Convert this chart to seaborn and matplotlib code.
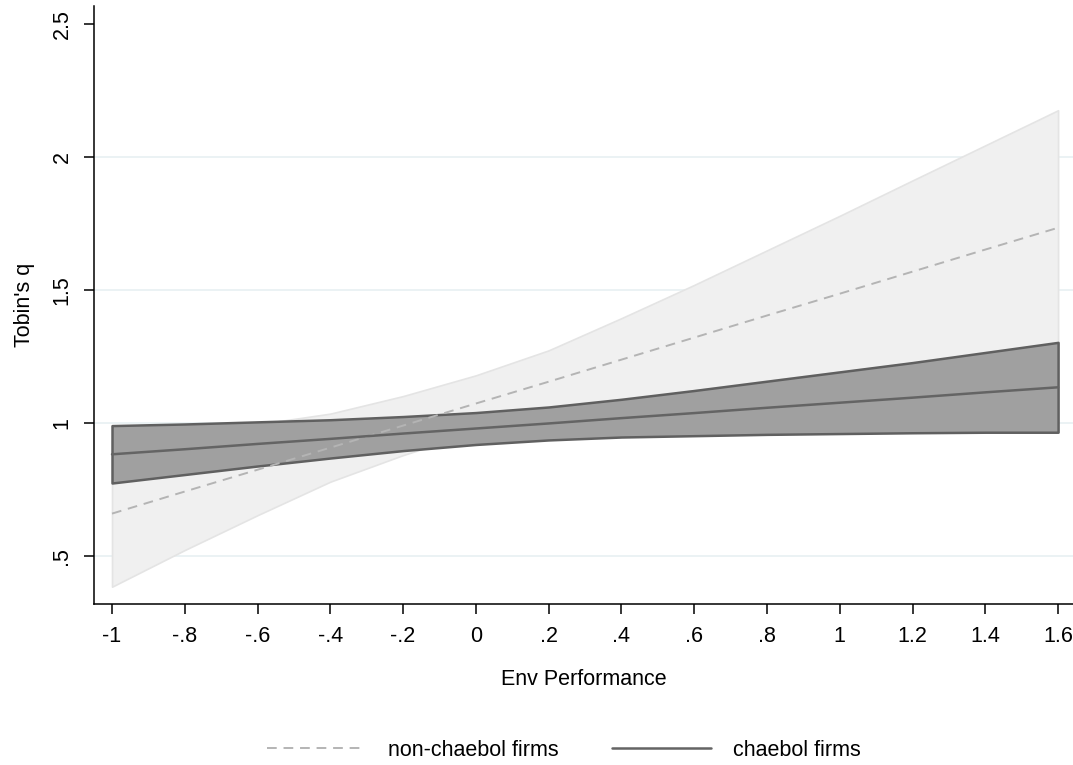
import matplotlib
matplotlib.use("Agg")
import matplotlib.pyplot as plt
import numpy as np
import pandas as pd
import seaborn as sns

# Predicted Tobin's q by environmental performance, with 95% CIs
env_perf = [-1.0, -0.8, -0.6, -0.4, -0.2, 0.0, 0.2, 0.4, 0.6, 0.8, 1.0, 1.2, 1.4, 1.6]

nonchaebol_fit = [0.660, 0.743, 0.825, 0.908, 0.991, 1.074, 1.156,
                  1.239, 1.322, 1.405, 1.487, 1.570, 1.653, 1.735]
nonchaebol_lo = [0.385, 0.523, 0.654, 0.780, 0.880, 0.968, 1.038,
                 1.083, 1.124, 1.160, 1.194, 1.227, 1.261, 1.293]
nonchaebol_hi = [0.935, 0.963, 0.996, 1.036, 1.102, 1.180, 1.274,
                 1.395, 1.520, 1.650, 1.780, 1.913, 2.045, 2.177]

chaebol_fit = [0.883, 0.902, 0.922, 0.941, 0.961, 0.980, 0.999,
               1.019, 1.038, 1.058, 1.077, 1.096, 1.116, 1.135]
chaebol_lo = [0.775, 0.807, 0.839, 0.869, 0.897, 0.920, 0.937,
              0.948, 0.953, 0.958, 0.961, 0.964, 0.966, 0.966]
chaebol_hi = [0.991, 0.997, 1.005, 1.013, 1.025, 1.040, 1.061,
              1.090, 1.123, 1.158, 1.193, 1.228, 1.266, 1.304]

x_ticks = [-1.0, -0.8, -0.6, -0.4, -0.2, 0.0, 0.2, 0.4, 0.6, 0.8, 1.0, 1.2, 1.4, 1.6]
x_tick_labels = ["-1", "-.8", "-.6", "-.4", "-.2", "0", ".2", ".4", ".6", ".8",
                 "1", "1.2", "1.4", "1.6"]
y_ticks = [0.5, 1.0, 1.5, 2.0, 2.5]
y_tick_labels = [".5", "1", "1.5", "2", "2.5"]
grid_levels = [0.5, 1.0, 1.5, 2.0]

sns.set_theme(style="white")
plt.rcParams["font.family"] = ["Liberation Sans", "DejaVu Sans"]
plt.rcParams["text.color"] = "black"
plt.rcParams["axes.labelcolor"] = "black"
plt.rcParams["xtick.color"] = "black"
plt.rcParams["ytick.color"] = "black"
FS = 15.5

df = pd.DataFrame({
    "env": env_perf * 2,
    "q": nonchaebol_fit + chaebol_fit,
    "group": ["non-chaebol firms"] * len(env_perf) + ["chaebol firms"] * len(env_perf),
})

fig = plt.figure(figsize=(10.73, 7.65), dpi=100)
ax = fig.add_axes([94 / 1073, 161 / 765, 1 - 94 / 1073, (604 - 6) / 765])

# horizontal grid
for yv in grid_levels:
    ax.axhline(yv, color="#e9f1f3", lw=1.3, zorder=0)

# confidence bands
ax.fill_between(env_perf, nonchaebol_lo, nonchaebol_hi, facecolor="#f0f0f0",
                edgecolor="#e4e4e4", lw=1.2, zorder=1)
ax.fill_between(env_perf, chaebol_lo, chaebol_hi, facecolor="#a0a0a0",
                edgecolor="#606060", lw=1.8, zorder=2)

sub_n = df[df.group == "non-chaebol firms"]
sub_c = df[df.group == "chaebol firms"]
sns.lineplot(data=sub_n, x="env", y="q", ax=ax, color="#b4b4b4", lw=1.4,
             dashes=False, label="non-chaebol firms", zorder=3)
ax.lines[-1].set_dashes([5, 3.5])
sns.lineplot(data=sub_c, x="env", y="q", ax=ax, color="#646464", lw=1.8,
             label="chaebol firms", zorder=4)

ax.set_xlim(-1.0495, 1.641)
ax.set_ylim(0.32, 2.569)
ax.set_xticks(x_ticks)
ax.set_xticklabels(x_tick_labels, fontsize=FS)
ax.set_yticks(y_ticks)
ax.set_yticklabels(y_tick_labels, fontsize=FS, rotation=90, va="center")
ax.tick_params(axis="both", direction="out", length=7.5, width=1.1, color="black",
               labelcolor="black", bottom=True, left=True)
ax.tick_params(axis="x", pad=8)
ax.tick_params(axis="y", pad=8)

for side in ["top", "right"]:
    ax.spines[side].set_visible(False)
for side in ["left", "bottom"]:
    ax.spines[side].set_color("black")
    ax.spines[side].set_linewidth(1.1)

ax.set_xlabel("Env Performance", fontsize=FS, labelpad=16, color="black")
ax.set_ylabel("Tobin's q", fontsize=FS, labelpad=12, color="black")

ax.get_legend().remove()
handles, labels = ax.get_legend_handles_labels()
fig.legend(handles, labels, loc="center", bbox_to_anchor=(564 / 1073, 15 / 765),
           ncol=2, frameon=False, fontsize=FS, handlelength=4.6,
           handletextpad=1.0, columnspacing=2.5, labelcolor="black")

fig.savefig("out.png", dpi=100)
